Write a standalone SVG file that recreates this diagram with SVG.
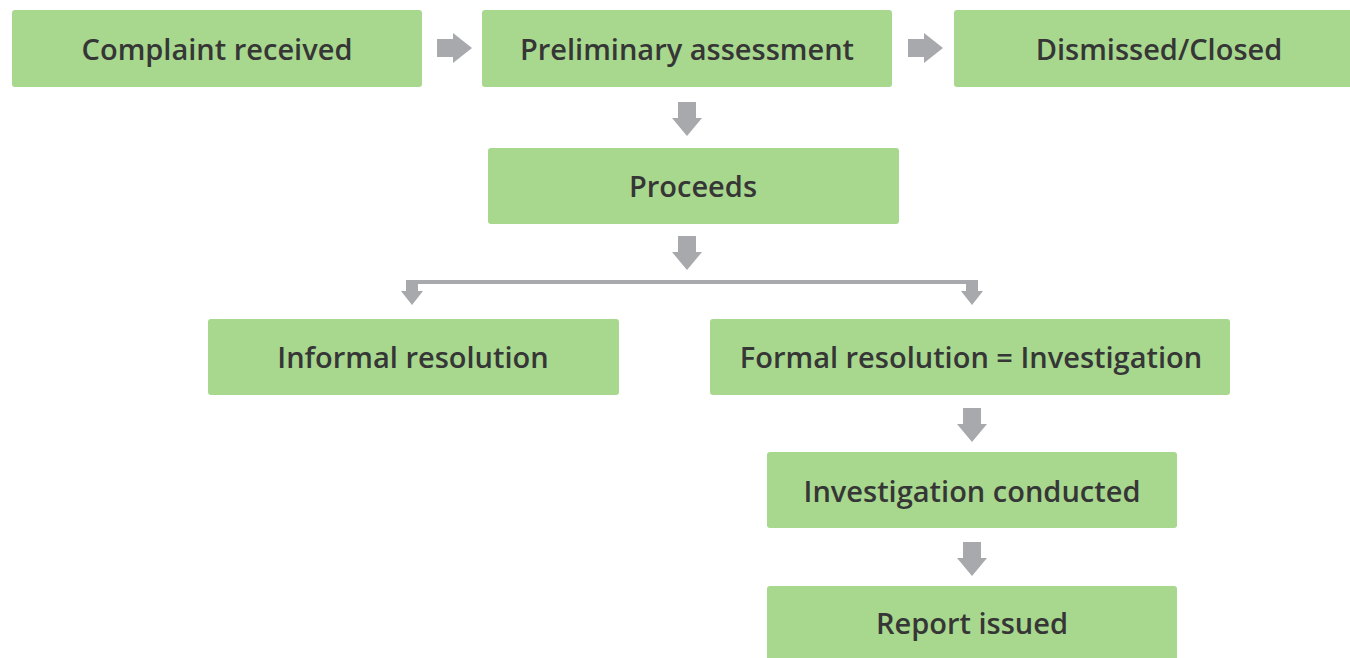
<svg xmlns="http://www.w3.org/2000/svg" width="1350" height="658" viewBox="0 0 1350 658">
<defs>
<style>
.box{fill:#a8d88e;}
.lbl{font-family:"Open Sans","Liberation Sans",sans-serif;font-weight:600;font-size:29px;fill:#363636;text-anchor:middle;dominant-baseline:central;}
.arr{fill:#a7a9ac;}
.line{stroke:#a7a9ac;stroke-width:4;fill:none;}
</style>
<path id="dn" d="M-9,0 H9 V16 H15 L0,34 L-15,16 H-9 Z"/>
<path id="rt" d="M0,-9 V9 H16 V15 L35,0 L16,-15 V-9 Z"/>
<path id="sdn" d="M-6,0 H6 V11 H11 L0,25 L-11,11 H-6 Z"/>
</defs>
<rect width="1350" height="658" fill="#ffffff"/>
<g id="connectors">
<use href="#rt" class="arr" x="437" y="48"/>
<use href="#rt" class="arr" x="908" y="48"/>
<use href="#dn" class="arr" x="687" y="102"/>
<use href="#dn" class="arr" x="687" y="236"/>
<path class="line" d="M412,282 H972"/>
<use href="#sdn" class="arr" x="412" y="280"/>
<use href="#sdn" class="arr" x="972" y="280"/>
<use href="#dn" class="arr" x="972" y="408"/>
<use href="#dn" class="arr" x="972" y="542"/>
</g>
<g id="complaint">
<rect class="box" x="12" y="10" width="410" height="77" rx="3"/>
<text class="lbl" x="217" y="48">Complaint received</text>
</g>
<g id="preliminary">
<rect class="box" x="482" y="10" width="410" height="77" rx="3"/>
<text class="lbl" x="687" y="48">Preliminary assessment</text>
</g>
<g id="dismissed">
<rect class="box" x="954" y="10" width="400" height="77" rx="3"/>
<text class="lbl" x="1159" y="48">Dismissed/Closed</text>
</g>
<g id="proceeds">
<rect class="box" x="488" y="148" width="411" height="76" rx="3"/>
<text class="lbl" x="693" y="185">Proceeds</text>
</g>
<g id="informal">
<rect class="box" x="208" y="319" width="411" height="76" rx="3"/>
<text class="lbl" x="413" y="356">Informal resolution</text>
</g>
<g id="formal">
<rect class="box" x="710" y="319" width="520" height="76" rx="3"/>
<text class="lbl" x="971" y="356">Formal resolution = Investigation</text>
</g>
<g id="investigation">
<rect class="box" x="767" y="452" width="410" height="76" rx="3"/>
<text class="lbl" x="972" y="490">Investigation conducted</text>
</g>
<g id="report">
<rect class="box" x="767" y="586" width="410" height="80" rx="3"/>
<text class="lbl" x="972" y="622">Report issued</text>
</g>
</svg>
